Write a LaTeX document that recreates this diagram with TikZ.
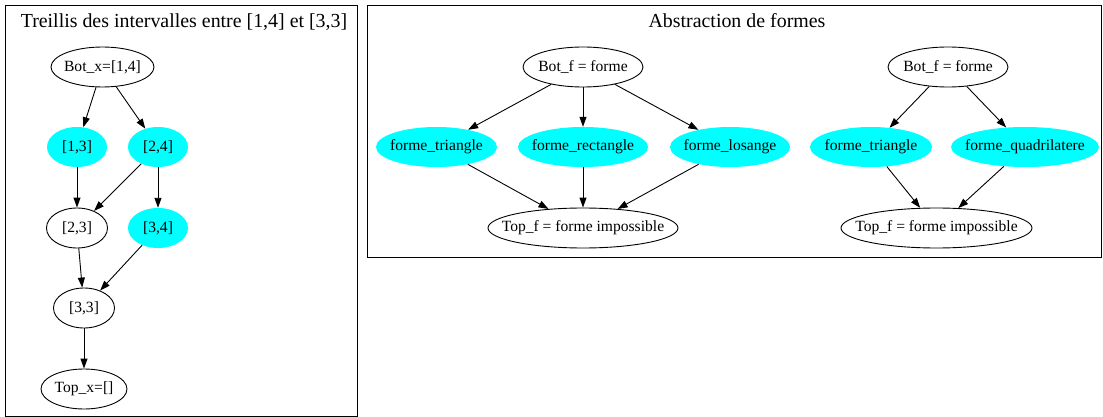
\documentclass[tikz,border=0pt]{standalone}
\usepackage{fontspec}
\setmainfont{Liberation Serif}
\usetikzlibrary{arrows.meta,positioning,shapes.geometric}
\definecolor{cyanvif}{RGB}{0,255,255}

\begin{document}
\begin{tikzpicture}[x=1pt, y=-1pt, on grid,
            vide/.style={ellipse, draw, line width=0.9pt, inner xsep=-20pt, inner ysep=0pt, minimum height=40pt, font=\fontsize{15.6}{18}\selectfont},
            plein/.style={ellipse, fill=cyanvif, inner xsep=-20pt, inner ysep=0pt, minimum height=40pt, font=\fontsize{15.6}{18}\selectfont},
            fleche/.style={-{Triangle[length=10pt, width=7pt]}, line width=0.9pt},
            cadre/.style={draw, line width=0.9pt},
            titre/.style={anchor=base, inner sep=0pt, font=\fontsize{19.9}{22}\selectfont}
        ]
        \useasboundingbox (0,0) rectangle (1103,417);

        % Treillis des intervalles
        \draw[cadre] (5.5,5.5) rectangle (357.5,416.5);
        \node[titre] (titreg) at (184,28) {Treillis des intervalles entre [1,4] et [3,3]};
        \node[vide, minimum width=103pt] (botx) at (102.5,67) {Bot\_x=[1,4]};
        \node[plein, minimum width=60pt, below left=80pt and 25.5pt of botx] (i13) {[1,3]};
        \node[plein, minimum width=60pt, below right=80pt and 55.5pt of botx] (i24) {[2,4]};
        \node[vide, minimum width=61pt, below=81pt of i13] (i23) {[2,3]};
        \node[plein, minimum width=60pt, below=81pt of i24] (i34) {[3,4]};
        \node[vide, minimum width=61pt, below right=80pt and 7pt of i23] (i33) {[3,3]};
        \node[vide, minimum width=86pt, below=81pt of i33] (topx) {Top\_x=[]};

        \draw[fleche] (botx) -- (i13);
        \draw[fleche] (botx) -- (i24);
        \draw[fleche] (i13) -- (i23);
        \draw[fleche] (i24) -- (i23);
        \draw[fleche] (i24) -- (i34);
        \draw[fleche] (i23) -- (i33);
        \draw[fleche] (i34) -- (i33);
        \draw[fleche] (i33) -- (topx);

        % Abstraction de formes
        \draw[cadre] (367.5,5.5) rectangle (1101.5,257);
        \node[titre] (titred) at (737,28) {Abstraction de formes};

        \node[vide, minimum width=120pt] (botf1) at (583,67) {Bot\_f = forme};
        \node[plein, minimum width=121pt, below left=80pt and 146.5pt of botf1] (tri1) {forme\_triangle};
        \node[plein, minimum width=130pt, below=80pt of botf1] (rect1) {forme\_rectangle};
        \node[plein, minimum width=120pt, below right=80pt and 147pt of botf1] (los1) {forme\_losange};
        \node[vide, minimum width=190pt, below=161pt of botf1] (topf1) {Top\_f = forme impossible};

        \draw[fleche] (botf1) -- (tri1);
        \draw[fleche] (botf1) -- (rect1);
        \draw[fleche] (botf1) -- (los1);
        \draw[fleche] (tri1) -- (topf1);
        \draw[fleche] (rect1) -- (topf1);
        \draw[fleche] (los1) -- (topf1);

        \node[vide, minimum width=120pt] (botf2) at (948,67) {Bot\_f = forme};
        \node[plein, minimum width=122pt, below left=80pt and 77pt of botf2] (tri2) {forme\_triangle};
        \node[plein, minimum width=148pt, below right=80pt and 77pt of botf2] (quad2) {forme\_quadrilatere};
        \node[vide, minimum width=191pt, below left=161pt and 11.5pt of botf2] (topf2) {Top\_f = forme impossible};

        \draw[fleche] (botf2) -- (tri2);
        \draw[fleche] (botf2) -- (quad2);
        \draw[fleche] (tri2) -- (topf2);
        \draw[fleche] (quad2) -- (topf2);
\end{tikzpicture}
\end{document}
